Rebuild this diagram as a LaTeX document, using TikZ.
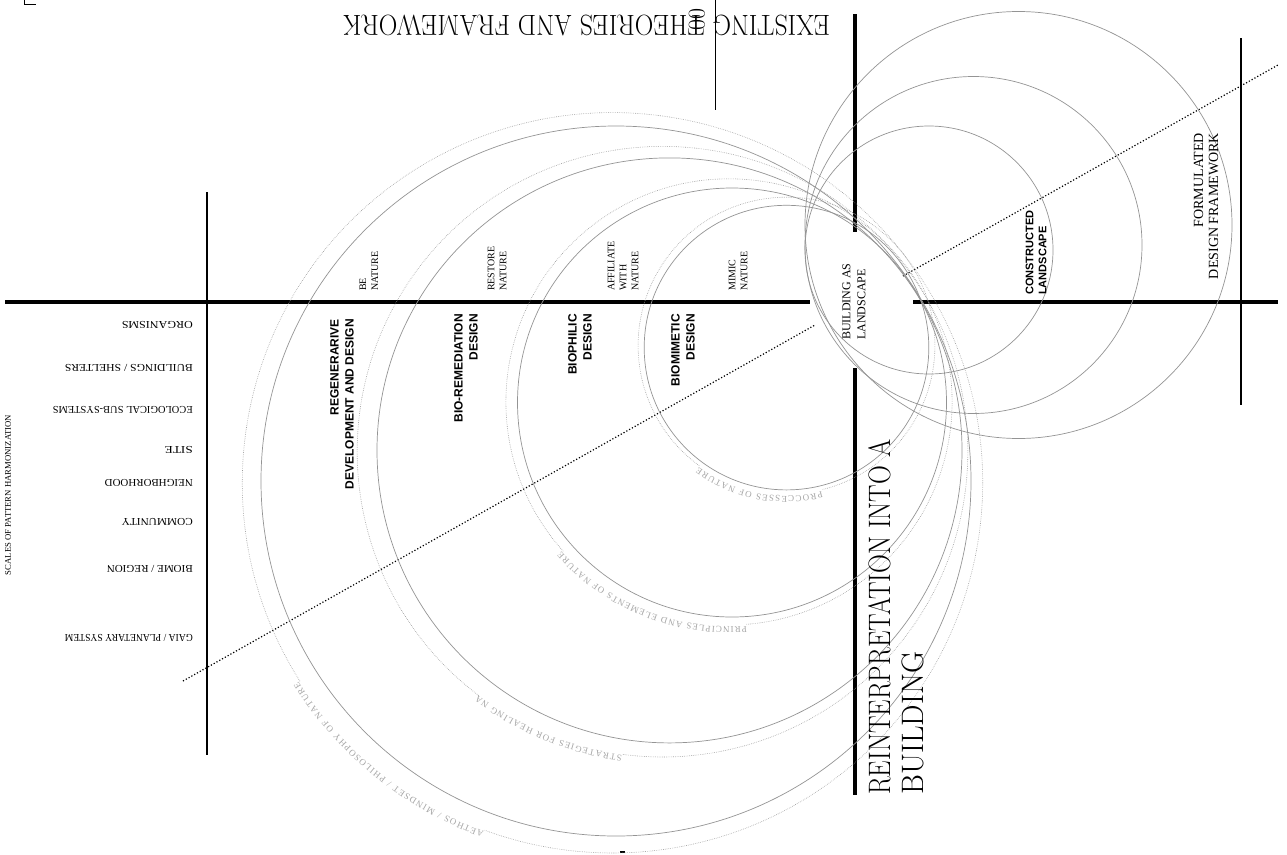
\documentclass[tikz,border=0pt]{standalone}
\usepackage{fontspec}
\newfontfamily\tms{Liberation Serif}
\newfontfamily\hlv{Liberation Sans}
\usetikzlibrary{decorations.text}
\newcommand{\hw}[2]{\resizebox{#1}{\height}{#2}}
\begin{document}
\begin{tikzpicture}[x=1pt,y=-1pt,
  axisline/.style={line width=3.4pt, black},
  thinax/.style={line width=1.1pt, black},
  circ/.style={draw=black!42, line width=0.7pt},
  dcirc/.style={draw=black!40, line width=0.6pt, dash pattern=on 0.6pt off 1.2pt},
  diag/.style={line width=1.2pt, dotted, black},
  slbl/.style={font=\tms\fontsize{10}{12}\selectfont, inner sep=0pt, rotate=90, anchor=west, align=left},
  blbl/.style={font=\hlv\bfseries\fontsize{12}{15}\selectfont, inner sep=0pt, rotate=90, anchor=east, align=right},
  scl/.style={font=\tms\fontsize{10.5}{12}\selectfont, inner sep=0pt, rotate=180, anchor=west},
  arctext/.style={decorate, decoration={text along path, text align={fit to path}, text={|\tms\fontsize{9}{9}\selectfont\color{black!35}|#1}}}
]
\useasboundingbox (0,0) rectangle (1287,854);
\fill[white] (0,0) rectangle (1287,854);

% coordinates of axes
\coordinate (hL1) at (5,302); \coordinate (hL2) at (810,302);
\coordinate (hR1) at (913,302); \coordinate (hR2) at (1278,302);
\coordinate (vT1) at (855,14); \coordinate (vT2) at (855,232);
\coordinate (vB1) at (855,368); \coordinate (vB2) at (855,795);
\coordinate (tA1) at (207,192); \coordinate (tA2) at (207,755);
\coordinate (tB1) at (1241,38); \coordinate (tB2) at (1241,405);
\coordinate (tC1) at (715,0); \coordinate (tC2) at (715,110);
\coordinate (dA1) at (183,681); \coordinate (dA2) at (815,325);
\coordinate (dB1) at (903,276); \coordinate (dB2) at (1278,65);

% circle centres
\coordinate (cBMs) at (786.5,347.6);
\coordinate (cBMd) at (786.5,345.6);
\coordinate (cBPs) at (732,402.5);
\coordinate (cBPd) at (729,401.9);
\coordinate (cBRs) at (669.5,450.4);
\coordinate (cBRd) at (662.5,451.7);
\coordinate (cRGs) at (616,481);
\coordinate (cRGd) at (612.5,482.8);
\coordinate (cR1) at (929,250);
\coordinate (cR2) at (973.5,245);
\coordinate (cR3) at (1018.5,225);

% axes
\draw[axisline] (hL1) -- (hL2);
\draw[axisline] (hR1) -- (hR2);
\draw[axisline] (vT1) -- (vT2);
\draw[axisline] (vB1) -- (vB2);
\draw[thinax] (tA1) -- (tA2);
\draw[thinax] (tB1) -- (tB2);
\draw[line width=0.9pt] (tC1) -- (tC2);
\draw[diag] (dA1) -- (dA2);
\draw[diag] (dB1) -- (dB2);
\coordinate (mk1) at (24,0); \coordinate (mk2) at (24,4); \coordinate (mk3) at (36,4);
\draw[line width=1pt] (mk1) -- (mk2) -- (mk3);
\coordinate (mk4) at (620,852); \coordinate (mk5) at (625,852);
\draw[line width=1.5pt] (mk4) -- (mk5);

% left family
\draw[circ] (cBMs) circle[radius=142.3];
\draw[circ] (cBPs) circle[radius=214.5];
\draw[circ] (cBRs) circle[radius=292.5];
\draw[circ] (cRGs) circle[radius=355];
\draw[dcirc] (cBMd) ++(126:148.4) arc[start angle=126, end angle=436, radius=148.4];
\draw[dcirc] (cBPd) ++(138:223.1) arc[start angle=138, end angle=445.5, radius=223.1];
\draw[dcirc] (cBRd) ++(127:305.3) arc[start angle=127, end angle=457.6, radius=305.3];
\draw[dcirc] (cRGd) ++(147.6:370.2) arc[start angle=147.6, end angle=470.2, radius=370.2];

% right family
\draw[circ] (cR1) circle[radius=124];
\draw[circ] (cR2) circle[radius=168.5];
\draw[circ] (cR3) circle[radius=213.5];

% curved texts
\path[arctext={PROCCESSES OF NATURE}] (cBMd) ++(76.4:150.5) arc[start angle=76.4, end angle=125.7, radius=150.5];
\path[arctext={PRINCIPLES AND ELEMENTS OF NATURE}] (cBPd) ++(85.5:225) arc[start angle=85.5, end angle=138.2, radius=225];
\path[arctext={STRATEGIES FOR HEALING NA}] (cBRd) ++(97.6:306) arc[start angle=97.6, end angle=127.1, radius=306];
\path[arctext={AETHOS / MINDSET / PHILOSOPHY OF NATURE}] (cRGd) ++(110.2:372) arc[start angle=110.2, end angle=147.6, radius=372];

% titles
\node[rotate=180, inner sep=0pt, font=\fontsize{29}{29}\selectfont] (title) at (586.5,26) {\hw{487pt}{EXISTING THEORIES AND FRAMEWORK}};
\node[rotate=90, inner sep=0pt, font=\fontsize{24}{24}\selectfont] (oo) at (697,19) {00};
\node[rotate=90, anchor=north west, align=left, inner sep=0pt, font=\fontsize{31}{33}\selectfont] (reint) at (868,795) {\hw{355pt}{REINTERPRETATION INTO A}\\\hw{143pt}{BUILDING}};

% design labels
\node[blbl] (regen) at (342,319) {REGENERARIVE\\DEVELOPMENT AND DESIGN};
\node[blbl] (biorem) at (466,314) {BIO-REMEDIATION\\DESIGN};
\node[blbl] (biophil) at (580,314) {BIOPHILIC\\DESIGN};
\node[blbl] (biomim) at (683,314) {BIOMIMETIC\\DESIGN};

\node[slbl] (be) at (369,291) {BE\\NATURE};
\node[slbl] (restore) at (497,291) {RESTORE\\NATURE};
\node[slbl] (affil) at (623,291) {AFFILIATE\\WITH\\NATURE};
\node[slbl] (mimic) at (738,291) {MIMIC\\NATURE};

\node[slbl, font=\tms\fontsize{12}{15}\selectfont] (bal) at (854,340) {BUILDING AS\\LANDSCAPE};
\node[font=\hlv\bfseries\fontsize{11}{13}\selectfont, inner sep=0pt, rotate=90, anchor=west, align=left] (constr) at (1036,295) {CONSTRUCTED\\LANDSCAPE};
\node[font=\tms\fontsize{14}{15}\selectfont, inner sep=0pt, rotate=90, anchor=east, align=right] (formul) at (1206,133) {FORMULATED\\DESIGN FRAMEWORK};

% scales
\node[scl] (s1) at (193,325) {\hw{71pt}{ORGANISMS}};
\node[scl] (s2) at (193,368) {\hw{128pt}{BUILDINGS / SHELTERS}};
\node[scl] (s3) at (193,410) {\hw{140pt}{ECOLOGICAL SUB-SYSTEMS}};
\node[scl] (s4) at (193,450) {\hw{28pt}{SITE}};
\node[scl] (s5) at (193,483) {\hw{88pt}{NEIGHBORHOOD}};
\node[scl] (s6) at (193,522) {\hw{71pt}{COMMUNITY}};
\node[scl] (s7) at (193,569) {\hw{86pt}{BIOME / REGION}};
\node[scl] (s8) at (193,638) {\hw{128pt}{GAIA / PLANETARY SYSTEM}};
\node[rotate=90, inner sep=0pt, font=\tms\fontsize{8.7}{9}\selectfont] (scales) at (8,495) {SCALES OF PATTERN HARMONIZATION};
\end{tikzpicture}
\end{document}
